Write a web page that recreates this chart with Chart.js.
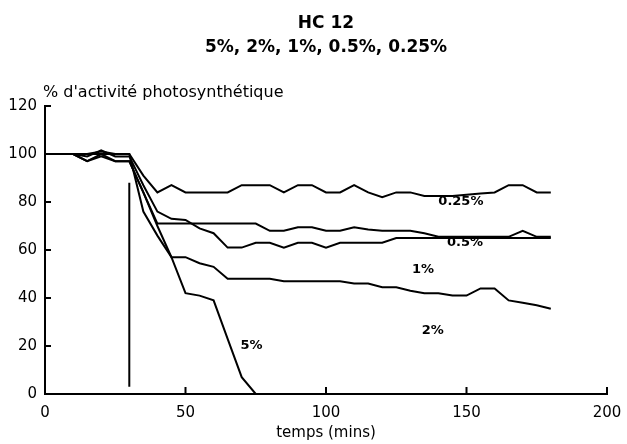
<!DOCTYPE html>
<html>
<head>
<meta charset="utf-8">
<script src="https://cdn.jsdelivr.net/npm/chart.js@4/dist/chart.umd.min.js"></script>
<style>
  body { margin: 0; background: #fff; }
  canvas { display: block; }
</style>
</head>
<body>
<canvas id="chart" width="627" height="444"></canvas>
<script>
// time points (mins)
const times = [0, 5, 10, 15, 20, 25, 30, 35, 40, 45, 50, 55, 60, 65, 70, 75, 80, 85, 90,
               95, 100, 105, 110, 115, 120, 125, 130, 135, 140, 145, 150, 155, 160, 165, 170, 175, 180];

// % d'activité photosynthétique, one array per concentration
const c025 = [100, 100, 100, 100, 101, 100, 100, 91, 84, 87, 84, 84, 84, 84, 87, 87, 87, 84, 87,
              87, 84, 84, 87, 84, 82, 84, 84, 82.5, 82.5, 82.5, 83, 83.5, 84, 87, 87, 84, 84];
const c05  = [100, 100, 100, 97, 99, 97, 97, 84, 71, 71, 71, 71, 71, 71, 71, 71, 68, 68, 69.5,
              69.5, 68, 68, 69.5, 68.5, 68, 68, 68, 67, 65.5, 65.5, 65.5, 65.5, 65.5, 65.5, 68, 65.5, 65.5];
const c1   = [100, 100, 100, 99, 101.5, 99, 99, 87, 76, 73, 72.5, 69, 67, 61, 61, 63, 63, 61, 63,
              63, 61, 63, 63, 63, 63, 65, 65, 65, 65, 65, 65, 65, 65, 65, 65, 65, 65];
const c2   = [100, 100, 100, 97, 100, 97, 97, 84, 70, 57, 57, 54.5, 53, 48, 48, 48, 48, 47, 47,
              47, 47, 47, 46, 46, 44.5, 44.5, 43, 42, 42, 41, 41, 44, 44, 39, 38, 37, 35.5];
const c5   = [100, 100, 100, 100, 100, 100, 100, 76, 66, 57, 42, 41, 39, 23, 7, 0];

// vertical marker where the product is added
const markerX = [30, 30];
const markerY = [88, 3];

// curve labels (text, time, value)
const labelText = ['0.25%', '0.5%', '1%', '2%', '5%'];
const labelT    = [148, 149.5, 134.5, 138, 73.5];
const labelV    = [80, 63, 52, 26.5, 20];

const xTicks = [0, 50, 100, 150, 200];
const yTicks = [0, 20, 40, 60, 80, 100, 120];

const FONT = "'DejaVu Sans', sans-serif";

const toPoints = (xs, ys) => ys.map((y, i) => ({ x: xs[i], y: y }));

const lineStyle = {
    borderColor: '#000',
    borderWidth: 2,
    pointRadius: 0,
    fill: false,
    tension: 0
};

// titles, inward ticks and curve labels
const decorations = {
    id: 'decorations',
    afterDraw(chart) {
        const ctx = chart.ctx;
        const area = chart.chartArea;
        const xs = chart.scales.x;
        const ys = chart.scales.y;
        ctx.save();
        ctx.fillStyle = '#000';
        ctx.strokeStyle = '#000';
        ctx.lineWidth = 2;

        // inward ticks
        ctx.beginPath();
        xTicks.forEach(v => {
            const px = xs.getPixelForValue(v);
            ctx.moveTo(px, area.bottom);
            ctx.lineTo(px, area.bottom - 7);
        });
        yTicks.forEach(v => {
            const py = ys.getPixelForValue(v);
            ctx.moveTo(area.left, py);
            ctx.lineTo(area.left + 6, py);
        });
        ctx.stroke();

        // chart title
        const cx = (area.left + area.right) / 2;
        ctx.textAlign = 'center';
        ctx.textBaseline = 'middle';
        ctx.font = 'bold 17px ' + FONT;
        ctx.fillText('HC 12', cx, 24);
        ctx.fillText('5%, 2%, 1%, 0.5%, 0.25%', cx, 48);

        // y axis title, horizontal above the axis
        ctx.textAlign = 'left';
        ctx.font = '16px ' + FONT;
        ctx.fillText("% d'activité photosynthétique", area.left - 2, 93);

        // curve labels
        ctx.textAlign = 'center';
        ctx.font = 'bold 13px ' + FONT;
        labelText.forEach((t, i) => {
            ctx.fillText(t, xs.getPixelForValue(labelT[i]), ys.getPixelForValue(labelV[i]));
        });
        ctx.restore();
    }
};

new Chart(document.getElementById('chart'), {
    type: 'line',
    data: {
        datasets: [
            { label: '0.25%', data: toPoints(times, c025), ...lineStyle },
            { label: '0.5%', data: toPoints(times, c05), ...lineStyle },
            { label: '1%', data: toPoints(times, c1), ...lineStyle },
            { label: '2%', data: toPoints(times, c2), ...lineStyle },
            { label: '5%', data: toPoints(times, c5), ...lineStyle },
            { label: 'marker', data: toPoints(markerX, markerY), ...lineStyle }
        ]
    },
    options: {
        responsive: false,
        animation: false,
        layout: { padding: { left: 0, right: 20, top: 106, bottom: 0 } },
        plugins: {
            legend: { display: false },
            tooltip: { enabled: false }
        },
        scales: {
            x: {
                type: 'linear',
                min: 0,
                max: 200,
                afterBuildTicks: s => { s.ticks = xTicks.map(v => ({ value: v })); },
                afterFit: s => {
                    s.height = 50;
                    s.paddingLeft = 0; s.paddingRight = 0;
                },
                grid: { display: true, drawOnChartArea: false, drawTicks: false },
                border: { display: true, color: '#000', width: 2 },
                ticks: { color: '#000', padding: 10, font: { family: FONT, size: 15 } },
                title: {
                    display: true,
                    text: 'temps (mins)',
                    color: '#000',
                    font: { family: FONT, size: 15 },
                    padding: { top: 0, bottom: 2 }
                }
            },
            y: {
                min: 0,
                max: 120,
                afterBuildTicks: s => { s.ticks = yTicks.map(v => ({ value: v })); },
                afterFit: s => {
                    s.width = 45;
                    s.paddingTop = 0; s.paddingBottom = 0;
                },
                grid: { display: true, drawOnChartArea: false, drawTicks: false },
                border: { display: true, color: '#000', width: 2 },
                ticks: { color: '#000', padding: 8, font: { family: FONT, size: 15 } }
            }
        }
    },
    plugins: [decorations]
});
</script>
</body>
</html>
